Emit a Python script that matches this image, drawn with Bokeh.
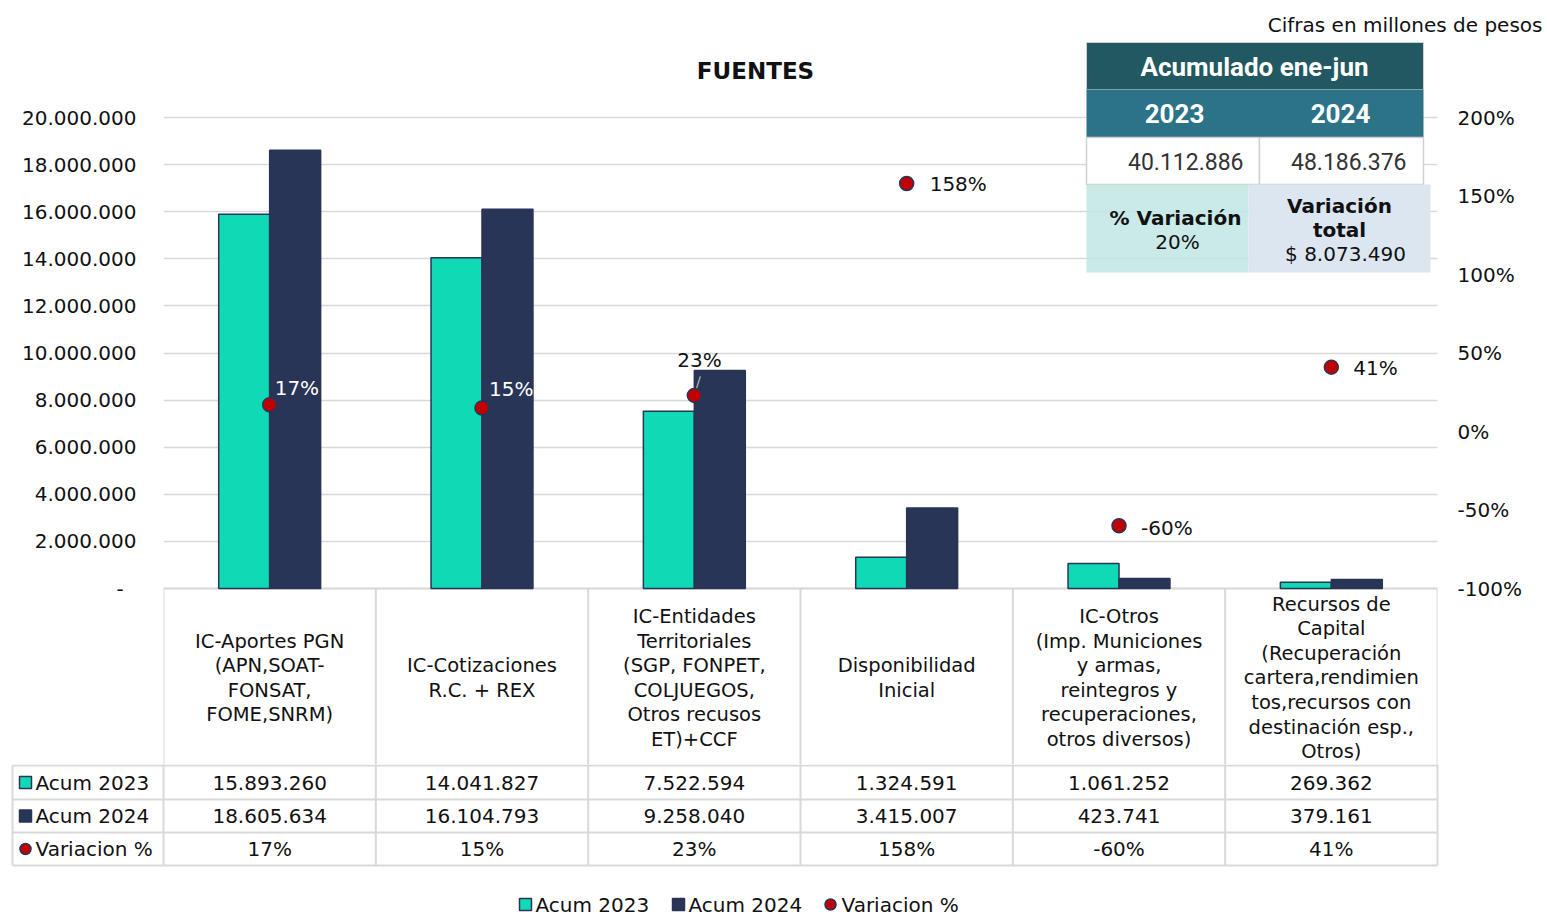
import numpy as np
from bokeh.plotting import figure
from bokeh.models import ColumnDataSource, Range1d, LinearAxis, FixedTicker
from bokeh.layouts import column
from bokeh.transform import dodge
from bokeh.embed import file_html
from bokeh.resources import INLINE
from bokeh.core.properties import value

# ---------------- data ----------------
categorias = [
    "IC-Aportes PGN (APN,SOAT-FONSAT, FOME,SNRM)",
    "IC-Cotizaciones R.C. + REX",
    "IC-Entidades Territoriales (SGP, FONPET, COLJUEGOS, Otros recusos ET)+CCF",
    "Disponibilidad Inicial",
    "IC-Otros (Imp. Municiones y armas, reintegros y recuperaciones, otros diversos)",
    "Recursos de Capital (Recuperación cartera,rendimientos,recursos con destinación esp., Otros)",
]
etiquetas_categoria = [
    "IC-Aportes PGN\n(APN,SOAT-\nFONSAT,\nFOME,SNRM)",
    "IC-Cotizaciones\nR.C. + REX",
    "IC-Entidades\nTerritoriales\n(SGP, FONPET,\nCOLJUEGOS,\nOtros recusos\nET)+CCF",
    "Disponibilidad\nInicial",
    "IC-Otros\n(Imp. Municiones\ny armas,\nreintegros y\nrecuperaciones,\notros diversos)",
    "Recursos de\nCapital\n(Recuperación\ncartera,rendimien\ntos,recursos con\ndestinación esp.,\nOtros)",
]
acum_2023 = [15893260, 14041827, 7522594, 1324591, 1061252, 269362]
acum_2024 = [18605634, 16104793, 9258040, 3415007, 423741, 379161]
variacion_pct = [17, 15, 23, 158, -60, 41]
series = ["Acum 2023", "Acum 2024", "Variacion %"]
ticks_izq = [0, 2000000, 4000000, 6000000, 8000000, 10000000, 12000000,
             14000000, 16000000, 18000000, 20000000]
ticks_der = [-100, -50, 0, 50, 100, 150, 200]
titulo = "FUENTES"
nota = "Cifras en millones de pesos"
resumen_titulo = "Acumulado ene-jun"
resumen_anios = ["2023", "2024"]

# ---------------- styles / layout ----------------
TEAL = "#10DAB5"
NAVY = "#283556"
RED = "#C00000"
GRID = "#D9D9D9"
TXT = "#111111"
FONT = "DejaVu Sans"
W = 1547
HEAD_H = 40
TT = 764                    # page px where the lower table strip begins
TOP_H = TT - HEAD_H
TAB_H = 916 - TT
FL, FR = 163, 1437          # frame left/right (page px)
Y0, Y20 = 588, 117          # page px of 0 and 20.000.000
CATW = (FR - FL) / 6.0


def miles(v):
    return f"{int(round(v)):,}".replace(",", ".")


def xd(px):
    return (px - FL) / CATW


def yd(py):
    return (Y0 - py) * 20e6 / (Y0 - Y20)


def pdp(py):
    return -100 + (Y0 - py) * 300.0 / (Y0 - Y20)


def pd(dpx):
    return dpx * 300.0 / (Y0 - Y20)


n = len(categorias)
centros = [i + 0.5 for i in range(n)]


def base_fig(width, height, xr, yr, **kw):
    f = figure(width=width, height=height, x_range=xr, y_range=yr,
               output_backend="svg", toolbar_location=None, x_axis_location=None,
               frame_align=False, **kw)
    f.outline_line_color = None
    f.background_fill_color = "white"
    f.border_fill_color = "white"
    return f


# ---------------- header strip ----------------
h = base_fig(W, HEAD_H, Range1d(0, W), Range1d(HEAD_H, 0), y_axis_location=None,
             min_border_left=0, min_border_right=0, min_border_top=0, min_border_bottom=0)
h.grid.visible = False
h.text(x=[1542], y=[24], text=[nota], text_align="right", text_baseline="middle",
       text_font=value(FONT), text_font_size="20px", text_color=TXT)

# ---------------- main chart (with the category header row of the table) ----------------
p = base_fig(W, TOP_H, Range1d(0, n), Range1d(yd(TT), yd(HEAD_H)),
             min_border_left=FL, min_border_right=W - FR,
             min_border_top=0, min_border_bottom=0)
p.xgrid.visible = False
p.extra_y_ranges = {"pct": Range1d(pdp(TT), pdp(HEAD_H))}

ya = p.yaxis[0]
ya.ticker = FixedTicker(ticks=ticks_izq)
ov = {t: miles(t) for t in ticks_izq}
ov[0] = "-\u00a0\u00a0"
ya.major_label_overrides = ov

ra = LinearAxis(y_range_name="pct", ticker=FixedTicker(ticks=ticks_der),
                major_label_overrides={t: f"{t}%" for t in ticks_der})
p.add_layout(ra, "right")
for ax, so in ((ya, 27), (ra, 20)):
    ax.axis_line_color = None
    ax.major_tick_line_color = None
    ax.minor_tick_line_color = None
    ax.major_tick_out = 0
    ax.major_tick_in = 0
    ax.major_label_standoff = so
    ax.major_label_text_font = FONT
    ax.major_label_text_font_size = "20px"
    ax.major_label_text_color = TXT

p.ygrid.ticker = FixedTicker(ticks=ticks_izq)
p.ygrid.grid_line_color = GRID
p.ygrid.grid_line_width = 1.5

# category header row of the data table
p.segment(x0=[0], x1=[n], y0=[0], y1=[0], line_color=GRID, line_width=2)
p.segment(x0=list(range(n + 1)), x1=list(range(n + 1)), y0=[0] * (n + 1),
          y1=[yd(TT + 2)] * (n + 1), line_color=GRID, line_width=2)
p.text(x=centros, y=[yd(677.5)] * n, text=etiquetas_categoria, text_align="center",
       text_baseline="middle", text_font=value(FONT), text_font_size="19.5px",
       text_line_height=1.07, text_color=TXT)

lbl_dx = [5, 7, -17, 23, 22, 22]
lbl_dy = [-17, -19, -35, 1, 2, 1]
lbl_col = ["white", "white", TXT, TXT, TXT, TXT]

src = ColumnDataSource(dict(
    x=centros, a23=acum_2023, a24=acum_2024, var=variacion_pct,
    var_lbl=[f"{v}%" for v in variacion_pct], dx=lbl_dx, dy=lbl_dy, col=lbl_col,
))

p.vbar(x=dodge("x", -0.12, range=p.x_range), top="a23", width=0.24, source=src,
       fill_color=TEAL, line_color=NAVY, line_width=1.5)
p.vbar(x=dodge("x", 0.12, range=p.x_range), top="a24", width=0.24, source=src,
       fill_color=NAVY, line_color=NAVY, line_width=1.5)

# leader line for the 23% label
k = 2
p.segment(x0=[centros[k] + 1 / CATW], y0=[variacion_pct[k] + pd(3)],
          x1=[centros[k] + 6 / CATW], y1=[variacion_pct[k] + pd(19)],
          y_range_name="pct", line_color="#A6A6A6", line_width=1.5)

p.scatter(x="x", y="var", source=src, y_range_name="pct", marker="circle", size=14,
          fill_color=RED, line_color=NAVY, line_width=1.5)
p.text(x="x", y="var", text="var_lbl", source=src, y_range_name="pct",
       x_offset="dx", y_offset="dy", text_color="col", text_align="left",
       text_baseline="middle", text_font=value(FONT), text_font_size="20px")

# title
p.text(x=[xd(755)], y=[yd(70)], text=[titulo], text_font=value(FONT),
       text_font_style="bold", text_font_size="23px", text_align="center",
       text_baseline="middle", text_color=TXT)

# summary box
tot23 = sum(acum_2023)
tot24 = sum(acum_2024)
dif = tot24 - tot23
pct_tot = dif / tot23 * 100

p.quad(left=[xd(1086)], right=[xd(1423)], top=[yd(42)], bottom=[yd(89)],
       fill_color="#215862", line_color="#D0D0D0", line_width=1)
p.quad(left=[xd(1086)], right=[xd(1423)], top=[yd(89)], bottom=[yd(137)],
       fill_color="#2D7388", line_color=None)
p.quad(left=[xd(1086), xd(1259)], right=[xd(1259), xd(1423)], top=[yd(137)] * 2,
       bottom=[yd(184)] * 2, fill_color="white", line_color="#D0D0D0", line_width=1.5)
p.quad(left=[xd(1086)], right=[xd(1248)], top=[yd(184)], bottom=[yd(272)],
       fill_color="#BFE6E3", fill_alpha=0.85, line_color=None)
p.quad(left=[xd(1248)], right=[xd(1430)], top=[yd(184)], bottom=[yd(272)],
       fill_color="#DCE6F1", line_color=None)

p.text(x=[xd(1254)], y=[yd(66)], text=[resumen_titulo], text_font=value("Roboto"),
       text_font_style="bold", text_font_size="26px", text_align="center",
       text_baseline="middle", text_color="white")
p.text(x=[xd(1174), xd(1340)], y=[yd(113)] * 2, text=resumen_anios,
       text_font=value("Roboto"), text_font_style="bold", text_font_size="26px",
       text_align="center", text_baseline="middle", text_color="white")
p.text(x=[xd(1243), xd(1406)], y=[yd(161)] * 2, text=[miles(tot23), miles(tot24)],
       text_font=value("Roboto"), text_font_size="23px", text_align="right",
       text_baseline="middle", text_color="#333333")
p.text(x=[xd(1175), xd(1339), xd(1339)], y=[yd(217), yd(205), yd(229)],
       text=["% Variación", "Variación", "total"], text_font=value(FONT),
       text_font_style="bold", text_font_size="20px", text_align="center",
       text_baseline="middle", text_color=TXT)
p.text(x=[xd(1177), xd(1345)], y=[yd(241), yd(253)],
       text=[f"{pct_tot:.0f}%", f"$ {miles(dif)}"], text_font=value(FONT),
       text_font_size="20px", text_align="center", text_baseline="middle",
       text_color=TXT)

# ---------------- value rows of the data table + legend ----------------
t = base_fig(W, TAB_H, Range1d(xd(0), xd(W)), Range1d(TT + TAB_H, TT),
             y_axis_location=None, min_border_left=0, min_border_right=0,
             min_border_top=0, min_border_bottom=0)
t.grid.visible = False

row_lines = [765, 799, 832, 865]
t.segment(x0=[xd(12)] * len(row_lines), x1=[n] * len(row_lines), y0=row_lines,
          y1=row_lines, line_color=GRID, line_width=2)
vx = list(range(n + 1)) + [xd(12)]
vy0 = [TT - 2] * (n + 1) + [765]
t.segment(x0=vx, x1=vx, y0=vy0, y1=[865] * (n + 2), line_color=GRID, line_width=2)

rows_y = [782, 815.5, 848.5]
for ry, vals in zip(rows_y, [[miles(v) for v in acum_2023],
                             [miles(v) for v in acum_2024],
                             [f"{v}%" for v in variacion_pct]]):
    t.text(x=centros, y=[ry] * n, text=vals, text_align="center",
           text_baseline="middle", text_font=value(FONT), text_font_size="20px",
           text_color=TXT)

# row keys
t.scatter(x=[xd(25)] * 2, y=rows_y[:2], marker="square", size=12,
          fill_color=[TEAL, NAVY], line_color=NAVY, line_width=1.5)
t.scatter(x=[xd(25)], y=[rows_y[2]], marker="circle", size=11,
          fill_color=RED, line_color=NAVY, line_width=1.5)
t.text(x=[xd(35)] * 3, y=rows_y, text=series, text_align="left",
       text_baseline="middle", text_font=value(FONT), text_font_size="20px",
       text_color=TXT)

# bottom legend
LY = 904
t.scatter(x=[xd(525), xd(678)], y=[LY, LY], marker="square", size=12,
          fill_color=[TEAL, NAVY], line_color=NAVY, line_width=1.5)
t.scatter(x=[xd(830)], y=[LY], marker="circle", size=11,
          fill_color=RED, line_color=NAVY, line_width=1.5)
t.text(x=[xd(535), xd(688), xd(841)], y=[LY] * 3, text=series, text_align="left",
       text_baseline="middle", text_font=value(FONT), text_font_size="20px",
       text_color=TXT)

layout = column(h, p, t, spacing=0)
open("out.html", "w").write(file_html(layout, INLINE))
